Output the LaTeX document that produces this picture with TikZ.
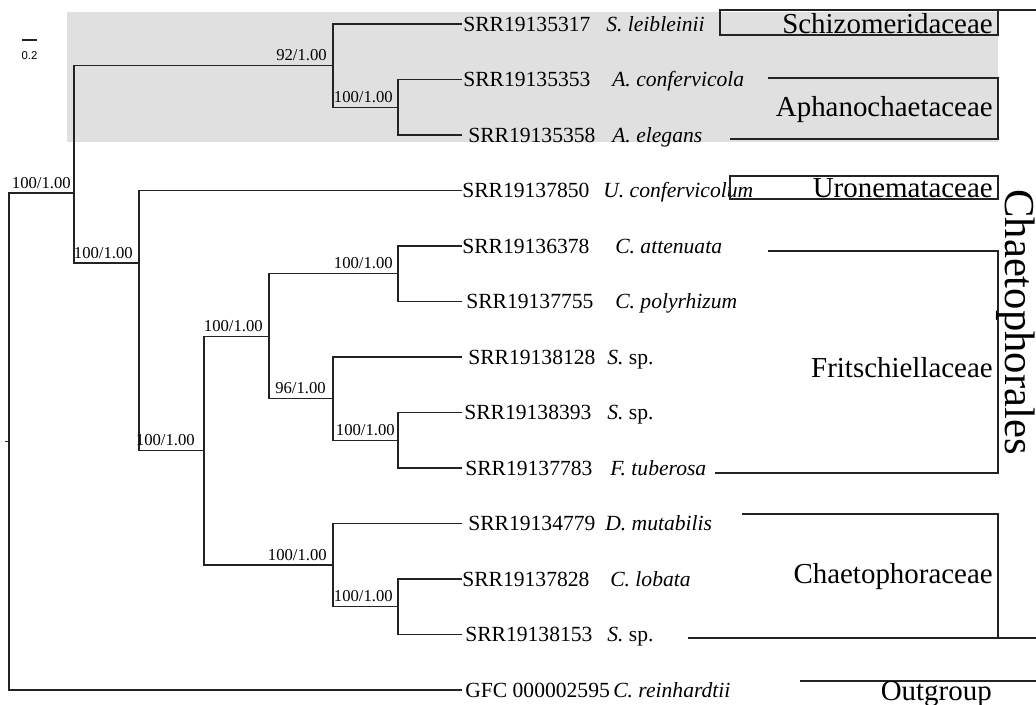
\documentclass[tikz,border=0pt]{standalone}
\usepackage{fontspec}
\setmainfont{Liberation Serif}
\newfontfamily\arialf{Liberation Sans}
\definecolor{linec}{RGB}{35,35,35}
\definecolor{boxgray}{RGB}{224,224,224}
\begin{document}
\begin{tikzpicture}[x=0.75pt,y=-0.75pt,
  tree/.style={draw=linec, line width=0.95pt},
  brk/.style={draw=linec, line width=0.95pt},
  leaf/.style={anchor=base west, inner sep=0pt, font=\fontsize{16.2}{18}\selectfont},
  supp/.style={anchor=base east, inner sep=0pt, font=\fontsize{12.5}{14}\selectfont},
  fam/.style={anchor=base east, inner sep=0pt, font=\fontsize{21.7}{24}\selectfont}]
\useasboundingbox (0,0) rectangle (1036,704);
\fill[white] (0,0) rectangle (1036,704);
% grey highlight
\fill[boxgray] (67,12) rectangle (998,142);
% scale bar
\coordinate (sb1) at (22,40);
\coordinate (sb2) at (37,40);
\draw[draw=linec, line width=1.6pt] (sb1) -- (sb2);
\node[font=\arialf\fontsize{8.5}{10}\selectfont, inner sep=0pt] (sbl) at (29.5,55.5) {0.2};
% internal nodes
\coordinate (Rs) at (5,441.5);
\coordinate (R) at (9,441.5);
\coordinate (A) at (74,193);
\coordinate (J) at (333,65.6);
\coordinate (K) at (398,107.25);
\coordinate (B) at (139,263);
\coordinate (C) at (204,450.6);
\coordinate (D) at (269,336.2);
\coordinate (E) at (398,273.75);
\coordinate (F) at (333,398.6);
\coordinate (G) at (398,440.25);
\coordinate (H) at (333,565.1);
\coordinate (I) at (398,606.75);
% leaves
\foreach \i/\y in {1/24,2/79.5,3/135,4/190.5,5/246,6/301.5,7/357,8/412.5,9/468,10/523.5,11/579,12/634.5,13/690}
  \coordinate (L\i) at (462,\y);
% branches
\draw[tree] (Rs) -- (R);
\draw[tree] (R) |- (A);
\draw[tree] (R) |- (L13);
\draw[tree] (A) |- (J);
\draw[tree] (A) |- (B);
\draw[tree] (J) |- (L1);
\draw[tree] (J) |- (K);
\draw[tree] (K) |- (L2);
\draw[tree] (K) |- (L3);
\draw[tree] (B) |- (L4);
\draw[tree] (B) |- (C);
\draw[tree] (C) |- (D);
\draw[tree] (C) |- (H);
\draw[tree] (D) |- (E);
\draw[tree] (D) |- (F);
\draw[tree] (E) |- (L5);
\draw[tree] (E) |- (L6);
\draw[tree] (F) |- (L7);
\draw[tree] (F) |- (G);
\draw[tree] (G) |- (L8);
\draw[tree] (G) |- (L9);
\draw[tree] (H) |- (L10);
\draw[tree] (H) |- (I);
\draw[tree] (I) |- (L11);
\draw[tree] (I) |- (L12);
% support values
\node[supp] (sA) at (71,188) {100/1.00};
\node[supp] (sJ) at (327,60.6) {92/1.00};
\node[supp] (sK) at (393,102.25) {100/1.00};
\node[supp] (sB) at (133,258) {100/1.00};
\node[supp] (sC) at (195,445.6) {100/1.00};
\node[supp] (sD) at (263,331.2) {100/1.00};
\node[supp] (sE) at (393,268.75) {100/1.00};
\node[supp] (sF) at (326,393.6) {96/1.00};
\node[supp] (sG) at (395,435.25) {100/1.00};
\node[supp] (sH) at (327,560.1) {100/1.00};
\node[supp] (sI) at (393,601.75) {100/1.00};
% leaf labels
\node[leaf] (c1) at (463,31) {SRR19135317};
\node[leaf] (n1) at (606,31) {\itshape S. leibleinii};
\node[leaf] (c2) at (463,86.5) {SRR19135353};
\node[leaf] (n2) at (612,86.5) {\itshape A. confervicola};
\node[leaf] (c3) at (468,142) {SRR19135358};
\node[leaf] (n3) at (612,142) {\itshape A. elegans};
\node[leaf] (c4) at (462,197.5) {SRR19137850};
\node[leaf] (n4) at (603,197.5) {\itshape U. confervicolum};
\node[leaf] (c5) at (462,253) {SRR19136378};
\node[leaf] (n5) at (615,253) {\itshape C. attenuata};
\node[leaf] (c6) at (466,308.5) {SRR19137755};
\node[leaf] (n6) at (615,308.5) {\itshape C. polyrhizum};
\node[leaf] (c7) at (468,364) {SRR19138128};
\node[leaf] (n7) at (607,364) {\textit{S.} sp.};
\node[leaf] (c8) at (464,419.5) {SRR19138393};
\node[leaf] (n8) at (607,419.5) {\textit{S.} sp.};
\node[leaf] (c9) at (465,475) {SRR19137783};
\node[leaf] (n9) at (610,475) {\itshape F. tuberosa};
\node[leaf] (c10) at (468,530.5) {SRR19134779};
\node[leaf] (n10) at (605,530.5) {\itshape D. mutabilis};
\node[leaf] (c11) at (462,586) {SRR19137828};
\node[leaf] (n11) at (610,586) {\itshape C. lobata};
\node[leaf] (c12) at (465,641.5) {SRR19138153};
\node[leaf] (n12) at (607,641.5) {\textit{S.} sp.};
\node[leaf] (c13) at (465,697) {GFC 000002595};
\node[leaf] (n13) at (613,697) {\itshape C. reinhardtii};
% family brackets
\draw[brk] (720,10) -- (1036,10);
\draw[brk] (720,10) rectangle (998,35);
\draw[brk] (768,78) -- (998,78) -- (998,139) -- (730,139);
\draw[brk] (730,176) rectangle (998,199);
\draw[brk] (768,251) -- (998,251) -- (998,473) -- (715,473);
\draw[brk] (742,514) -- (998,514) -- (998,638);
\draw[brk] (688,638) -- (1036,638);
\draw[brk] (800,681) -- (1036,681);
% family names
\node[fam] (f1) at (993,33) {Schizomeridaceae};
\node[fam] (f2) at (993,116) {Aphanochaetaceae};
\node[fam] (f3) at (993,197) {Uronemataceae};
\node[fam] (f4) at (993,377) {Fritschiellaceae};
\node[fam] (f5) at (993,583) {Chaetophoraceae};
\node[fam] (f6) at (992,700) {Outgroup};
\node[rotate=-90, anchor=base, inner sep=0pt, font=\fontsize{32}{34}\selectfont] (ord) at (1005,322) {Chaetophorales};
\end{tikzpicture}
\end{document}
